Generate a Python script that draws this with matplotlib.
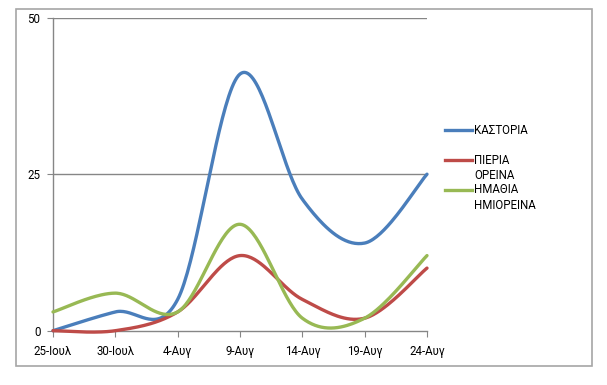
import numpy as np
import matplotlib
matplotlib.use("Agg")
import matplotlib.pyplot as plt
from matplotlib.lines import Line2D
from matplotlib.patches import Rectangle

categories = ["25-Ιουλ", "30-Ιουλ", "4-Αυγ", "9-Αυγ", "14-Αυγ", "19-Αυγ", "24-Αυγ"]
kastoria = [0, 3, 5, 41, 21, 14, 25]
pieria = [0, 0, 3, 12, 5, 2, 10]
imathia = [3, 6, 3, 17, 2, 2, 12]
series_names = [["ΚΑΣΤΟΡΙΑ"], ["ΠΙΕΡΙΑ", "ΟΡΕΙΝΑ"], ["ΗΜΑΘΙΑ", "ΗΜΙΟΡΕΙΝΑ"]]
colors = ["#4a7ebb", "#be4b48", "#98b954"]
yticks = [0, 25, 50]

plt.rcParams['font.family'] = ['Roboto', 'DejaVu Sans']


def smooth(values, n=40):
    pts = np.column_stack([np.arange(len(values), dtype=float), np.asarray(values, float)])
    m = len(pts)
    xs, ys = [], []
    t = np.linspace(0, 1, n)[:, None]
    for i in range(m - 1):
        p0 = pts[max(i - 1, 0)]
        p1 = pts[i]
        p2 = pts[i + 1]
        p3 = pts[min(i + 2, m - 1)]
        c1 = p1 + (p2 - p0) / 6.0
        c2 = p2 - (p3 - p1) / 6.0
        b = ((1 - t) ** 3) * p1 + 3 * ((1 - t) ** 2) * t * c1 + 3 * (1 - t) * t ** 2 * c2 + t ** 3 * p2
        xs.append(b[:, 0]); ys.append(b[:, 1])
    return np.concatenate(xs), np.concatenate(ys)


W, H = 607, 385
fig = plt.figure(figsize=(W / 100, H / 100), dpi=100)
ax = fig.add_axes([53 / W, 1 - 330.7 / H, (427 - 53) / W, (330.7 - 17.7) / H])

# outer border
fig.add_artist(Rectangle((16 / W, 1 - 366 / H), (592 - 16) / W, (366 - 9) / H,
                         transform=fig.transFigure, fill=False, edgecolor="#a6a6a6", lw=1.2))

for y in yticks[1:]:
    ax.axhline(y, color="#868686", lw=1.0, zorder=1)

for vals, c in zip([kastoria, pieria, imathia], colors):
    sx, sy = smooth(vals)
    ax.plot(sx, sy, color=c, lw=2.4, solid_capstyle="round", zorder=3, clip_on=False)

ax.set_xlim(0, len(categories) - 1)
ax.set_ylim(0, 50)
ax.set_xticks(range(len(categories)))
ax.set_xticklabels(categories)
ax.set_yticks(yticks)
for s in ["top", "right"]:
    ax.spines[s].set_visible(False)
for s in ["left", "bottom"]:
    ax.spines[s].set_color("#868686")
    ax.spines[s].set_linewidth(1.0)
ax.tick_params(axis="both", direction="out", length=4, color="#868686", labelsize=8.3, labelcolor="#000000")
ax.tick_params(axis="x", pad=6)
ax.tick_params(axis="y", pad=5)

# legend
leg_x0, leg_x1, txt_x = 445 / W, 472 / W, 474 / W
leg_rows = [130, 160, 190]
line_gap = 15.5
for ly, lines, c in zip(leg_rows, series_names, colors):
    fig.add_artist(Line2D([leg_x0, leg_x1], [1 - ly / H] * 2, color=c, lw=2.4,
                          transform=fig.transFigure))
    for k, txt in enumerate(lines):
        fig.text(txt_x, 1 - (ly + k * line_gap) / H, txt, fontsize=8.3, va="center",
                 ha="left", color="#000000")

fig.savefig("out.png", dpi=100)
